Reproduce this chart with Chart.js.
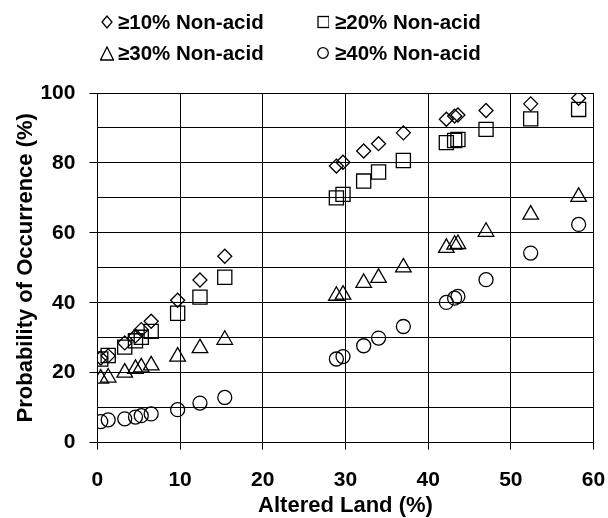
<!DOCTYPE html>
<html>
<head>
<meta charset="utf-8">
<script src="https://cdn.jsdelivr.net/npm/chart.js@4.4.0/dist/chart.umd.min.js"></script>
<style>
    html, body { margin: 0; padding: 0; background: #fff; }
    #wrap { position: relative; width: 608px; height: 518px; overflow: hidden; }
    #chart { position: absolute; left: 0; top: 0; }
    .leg-text {
        position: absolute;
        font: bold 20.5px "Liberation Sans", Arial, sans-serif;
        color: #000;
        line-height: 24px;
        white-space: nowrap;
    }
    .leg-mark { position: absolute; }
</style>
</head>
<body>
<div id="wrap">
    <canvas id="chart" width="608" height="518"></canvas>
    <div id="legend"></div>
</div>
<script>
// 변경 토지 비율 (x)
const alteredLand = [0.4, 1.3, 3.3, 4.6, 5.3, 6.5, 9.7, 12.4, 15.4, 28.9, 29.7, 32.2, 34.0, 37.0, 42.2, 43.2, 43.6, 47.0, 52.4, 58.2];

// 출현 확률 (%) - 시리즈별
const nonAcid10 = [24.2, 24.8, 28.5, 30.5, 32.3, 34.7, 40.7, 46.5, 53.3, 79.1, 80.2, 83.4, 85.5, 88.6, 92.5, 93.4, 93.7, 95.0, 96.9, 98.5];
const nonAcid20 = [23.9, 24.9, 27.3, 29.1, 30.1, 31.8, 37.0, 41.6, 47.3, 70.0, 71.0, 74.8, 77.4, 80.7, 85.8, 86.4, 86.7, 89.6, 92.6, 95.3];
const nonAcid30 = [18.3, 18.6, 20.0, 21.1, 21.5, 22.1, 24.6, 27.0, 29.4, 42.0, 42.3, 45.7, 47.1, 50.1, 55.7, 56.6, 56.8, 60.3, 65.2, 70.3];
const nonAcid40 = [6.0, 6.5, 6.8, 7.3, 7.7, 8.2, 9.4, 11.3, 12.9, 23.9, 24.6, 27.7, 29.9, 33.2, 40.1, 41.3, 41.8, 46.6, 54.2, 62.4];

const seriesNames = ['≥10% Non-acid', '≥20% Non-acid', '≥30% Non-acid', '≥40% Non-acid'];
const seriesStyles = ['rectRot', 'rect', 'triangle', 'circle'];
const seriesRadius = [7, 10, 9, 7];

const FONT = '"Liberation Sans", Arial, sans-serif';
Chart.defaults.font.family = FONT;
Chart.defaults.color = '#000';

function toPoints(ys) {
    return alteredLand.map((x, i) => ({ x: x, y: ys[i] }));
}

const allSeries = [nonAcid10, nonAcid20, nonAcid30, nonAcid40];

const chart = new Chart(document.getElementById('chart'), {
    type: 'scatter',
    data: {
        datasets: allSeries.map((ys, i) => ({
            label: seriesNames[i],
            data: toPoints(ys),
            pointStyle: seriesStyles[i],
            pointRadius: seriesRadius[i],
            pointBorderColor: '#000',
            pointBackgroundColor: 'rgba(0,0,0,0)',
            pointBorderWidth: 1.3
        }))
    },
    options: {
        responsive: false,
        animation: false,
        layout: { padding: { left: 13, right: 0, top: 93, bottom: 0 } },
        plugins: {
            legend: { display: false },
            tooltip: { enabled: false }
        },
        scales: {
            x: {
                type: 'linear',
                min: 0,
                max: 60,
                // 라벨을 아래로 내리기 위해 lineHeight 를 크게
                ticks: { stepSize: 10, padding: 2.8, font: { size: 21, weight: 'bold', lineHeight: 2.64 } },
                grid: { color: '#000', lineWidth: 1, tickLength: 7, tickColor: '#000' },
                border: { color: '#000', width: 1 },
                title: {
                    display: true,
                    text: 'Altered Land (%)',
                    font: { size: 22, weight: 'bold' },
                    padding: { top: -18, bottom: -1 }
                }
            },
            y: {
                min: 0,
                max: 100,
                ticks: {
                    stepSize: 10,
                    padding: 14,
                    font: { size: 21, weight: 'bold' },
                    callback: v => (v % 20 === 0 ? v : '')
                },
                grid: {
                    color: '#000',
                    lineWidth: 1,
                    tickLength: 8,
                    tickColor: c => (c.tick && c.tick.value % 20 === 0 ? '#000' : 'rgba(0,0,0,0)')
                },
                border: { color: '#000', width: 1 },
                title: {
                    display: true,
                    text: 'Probability of Occurrence (%)',
                    font: { size: 22, weight: 'bold' },
                    padding: { top: 0, bottom: -13 }
                }
            }
        }
    }
});

// 범례 (2x2)
const legendCols = [{ mark: 107, text: 118 }, { mark: 323, text: 335 }];
const legendRows = [21.7, 53];
const markerSvg = [
    '<polygon points="1,7 6,1 11,7 6,13" />',
    '<rect x="1" y="1.5" width="11" height="11" />',
    '<polygon points="7,1 13.5,14 0.5,14" />',
    '<circle cx="6" cy="7" r="5.3" />'
];
const legendEl = document.getElementById('legend');
seriesNames.forEach((name, i) => {
    const col = legendCols[i % 2];
    const rowY = legendRows[Math.floor(i / 2)];
    const mark = document.createElement('div');
    mark.className = 'leg-mark';
    const w = i === 2 ? 14 : 12;
    mark.style.left = (col.mark - w / 2) + 'px';
    mark.style.top = (rowY - 7) + 'px';
    mark.innerHTML = '<svg width="' + w + '" height="15" viewBox="0 0 ' + w + ' 15" fill="none" stroke="#000" stroke-width="1.3">' + markerSvg[i] + '</svg>';
    legendEl.appendChild(mark);

    const txt = document.createElement('div');
    txt.className = 'leg-text';
    txt.style.left = col.text + 'px';
    txt.style.top = (rowY - 12) + 'px';
    txt.textContent = name;
    legendEl.appendChild(txt);
});
</script>
</body>
</html>
